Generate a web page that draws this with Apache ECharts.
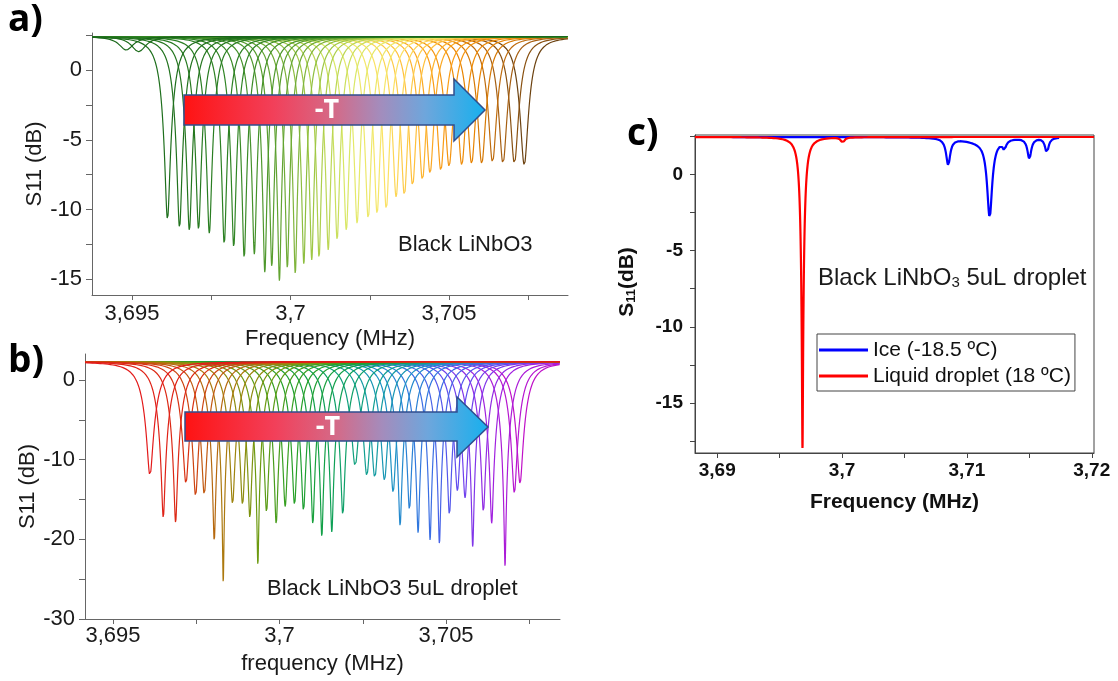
<!DOCTYPE html>
<html><head><meta charset="utf-8">
<script src="https://cdn.jsdelivr.net/npm/echarts@6/dist/echarts.min.js"></script>
<style>html,body{margin:0;padding:0;background:#fff}#c{width:1118px;height:681px}</style>
</head><body><div id="c"></div>
<script>
// ---------------- DATA ----------------
// Panel a: Black LiNbO3 — dip centre (MHz) and dip minimum (dB) of each sweep
const A_CENTERS = [3.69482,3.69521,3.69612,3.69650,3.69681,3.69710,3.69744,3.69791,3.69821,3.69854,
  3.69886,3.69919,3.69941,3.69965,3.69990,3.70015,3.70042,3.70067,3.70090,3.70119,
  3.70147,3.70176,3.70210,3.70245,3.70273,3.70302,3.70333,3.70359,3.70385,3.70416,
  3.70440,3.70474,3.70500,3.70540,3.70571,3.70603,3.70637,3.70670,3.70706,3.70737];
const A_MINIMA = [1.43,1.31,-10.7,-11.3,-11.5,-11.4,-11.7,-12.5,-12.7,-13.5,
  -13.2,-14.5,-14.1,-15.1,-14.2,-14.6,-13.9,-13.6,-13.5,-12.9,
  -12.2,-11.5,-11.0,-10.7,-10.3,-10.0,-9.1,-9.0,-8.3,-7.9,
  -7.4,-7.2,-6.9,-6.8,-6.7,-6.7,-6.6,-6.7,-6.7,-6.8];
const A_BASELINE = 2.4;        // dB, off-resonance level
const A_HALFWIDTH = 0.00029;   // MHz, resonance half-width
const A_XTICKS = [3.695, 3.7, 3.705];
const A_XMINOR = [3.6975, 3.7025, 3.7075];
const A_YTICKS = [0, -5, -10, -15];
const A_YMINOR = [2.5, -2.5, -7.5, -12.5];

// Panel b: Black LiNbO3 5uL droplet
const B_CENTERS = [3.69611,3.69651,3.69688,3.69719,3.69748,3.69774,3.69804,3.69831,3.69859,3.69889,
  3.69911,3.69935,3.69961,3.69990,3.70017,3.70045,3.70072,3.70100,3.70127,3.70157,
  3.70190,3.70227,3.70262,3.70286,3.70315,3.70341,3.70362,3.70390,3.70416,3.70452,
  3.70480,3.70510,3.70534,3.70557,3.70580,3.70612,3.70637,3.70677,3.70705,3.70722];
const B_MINIMA = [-12.0,-17.3,-17.9,-13.0,-14.6,-14.4,-20.3,-25.5,-15.6,-15.7,
  -17.3,-23.3,-16.6,-18.1,-15.9,-15.7,-16.5,-18.1,-19.7,-19.1,
  -17.0,-10.8,-12.0,-12.3,-12.6,-14.1,-18.3,-16.3,-19.2,-20.1,
  -20.6,-17.0,-13.9,-14.8,-21.0,-16.6,-18.0,-23.4,-14.2,-13.0];
const B_BASELINE = 2.3;
const B_HALFWIDTH = 0.00036;
const B_XTICKS = [3.695, 3.7, 3.705];
const B_XMINOR = [3.6975, 3.7025, 3.7075];
const B_YTICKS = [0, -10, -20, -30];
const B_YMINOR = [-5, -15, -25];

// Panel c: ice vs liquid droplet
const ICE_NAME = 'Ice (-18.5 ºC)';
const ICE_RANGE = [3.6884, 3.7174];
const ICE_BASELINE = 2.45;
const ICE_CENTERS = [3.70850, 3.71182, 3.71300, 3.71500, 3.71640, 3.71080];
const ICE_MINIMA  = [0.72, -2.62, 1.90, 1.10, 1.45, 2.20];
const ICE_WIDTHS  = [0.00022, 0.00033, 0.00016, 0.00020, 0.00018, 0.0016];
const LIQ_NAME = 'Liquid droplet (18 ºC)';
const LIQ_RANGE = [3.68822, 3.72018];
const LIQ_BASELINE = 2.45;
const LIQ_CENTERS = [3.69683, 3.70005];
const LIQ_MINIMA  = [-17.98, 2.10];
const LIQ_WIDTHS  = [0.00030, 0.00016];
const C_XTICKS = [3.69, 3.7, 3.71, 3.72];
const C_XMINOR = [3.695, 3.705, 3.715];
const C_YTICKS = [0, -5, -10, -15];
const C_YMINOR = [2.5, -2.5, -7.5, -12.5, -17.5];

// ---------------- helpers ----------------
const FONT = '"Liberation Sans", Arial, sans-serif';
function gridXs(xmin, xmax, centers, widths) {
  const xs = [];
  for (let x = xmin; x <= xmax + 1e-12; x += 0.00002) xs.push(x);
  centers.forEach((c, i) => {
    const w = widths[i];
    for (let k = -320; k <= 320; k++) { const x = c + k * w / 40; if (x >= xmin && x <= xmax) xs.push(x); }
    for (let k = -120; k <= 120; k++) { const x = c + k * w / 400; if (x >= xmin && x <= xmax) xs.push(x); }
  });
  xs.sort((a, b) => a - b);
  return xs;
}
// reflection resonances: each dip reaches its read minimum at its centre
function spectrum(xmin, xmax, base, centers, minima, widths) {
  const xs = gridXs(xmin, xmax, centers, widths);
  const depth = minima.map(m => 1 - Math.pow(10, -(base - m) / 10));
  return xs.map(x => {
    let lin = 1;
    centers.forEach((c, i) => { const u = (x - c) / widths[i]; lin *= 1 - depth[i] / (1 + u * u); });
    return [x, base + 10 * Math.log10(lin)];
  });
}
function hex(c){return [parseInt(c.slice(1,3),16),parseInt(c.slice(3,5),16),parseInt(c.slice(5,7),16)];}
function mix(stops, t) {
  for (let i = 0; i < stops.length - 1; i++) {
    const [t0, c0] = stops[i], [t1, c1] = stops[i + 1];
    if (t <= t1 || i === stops.length - 2) {
      const f = Math.max(0, Math.min(1, (t - t0) / (t1 - t0)));
      const a = hex(c0), b = hex(c1);
      return 'rgb(' + a.map((v, k) => Math.round(v + (b[k] - v) * f)).join(',') + ')';
    }
  }
}
const A_COLORS = [[0,'#1a681a'],[0.2,'#2f8424'],[0.35,'#6aa834'],[0.45,'#a6cc48'],[0.55,'#e0ea6a'],
  [0.63,'#fae66a'],[0.72,'#ffbf3a'],[0.8,'#f99a14'],[0.88,'#e68200'],[0.94,'#b06412'],[1,'#6c4210']];
const B_COLORS = [[0,'#e31a1a'],[0.08,'#d83212'],[0.13,'#c05a10'],[0.19,'#a8800e'],[0.28,'#6e9a10'],
  [0.38,'#28a026'],[0.48,'#0ea050'],[0.56,'#10a08e'],[0.64,'#1c92c4'],[0.73,'#3474e2'],
  [0.83,'#6548f0'],[0.92,'#a022e0'],[1,'#c010c8']];
const fmtX = v => String(+v.toFixed(4)).replace('.', ',');

const A_X = [3.69374, 3.70875], A_Y = [-16.12, 2.65];
const B_X = [3.69416, 3.70842], B_Y = [-30, 3.26];
const C_X = [3.68822, 3.72018], C_Y = [-18.27, 2.58];

const axisTxt = {color: '#1a1a1a', fontSize: 22, fontFamily: FONT};
function xAxisAB(grid, rng, ticks, minor, name, margin, gap) {
  return {type:'value', gridIndex:grid, min:rng[0], max:rng[1],
    axisLine:{onZero:false, lineStyle:{color:'#666', width:1}},
    axisTick:{customValues: ticks.concat(minor), length:5, lineStyle:{color:'#666'}},
    axisLabel:{customValues: ticks, formatter: fmtX, margin: margin, ...axisTxt},
    splitLine:{show:false}, name:name, nameLocation:'middle', nameGap:gap,
    nameTextStyle:{...axisTxt}};
}
function yAxisAB(grid, rng, ticks, minor, gap) {
  return {type:'value', gridIndex:grid, min:rng[0], max:rng[1],
    axisLine:{show:true, onZero:false, lineStyle:{color:'#666', width:1}},
    axisTick:{show:true, customValues: ticks.concat(minor), length:6, lineStyle:{color:'#666'}},
    axisLabel:{customValues: ticks, formatter: v => String(Math.round(v)), margin: 10, ...axisTxt},
    splitLine:{show:false}, name:'S11 (dB)', nameLocation:'middle', nameGap:gap, nameRotate:90,
    nameTextStyle:{...axisTxt}};
}

const series = [];
for (let i = A_CENTERS.length - 1; i >= 0; i--) {
  series.push({type:'line', xAxisIndex:0, yAxisIndex:0, symbol:'none', silent:true,
    data: spectrum(A_X[0], A_X[1], A_BASELINE, [A_CENTERS[i]], [A_MINIMA[i]], [A_HALFWIDTH]),
    lineStyle:{width:1.2, color: mix(A_COLORS, i / (A_CENTERS.length - 1))}});
}
for (let i = B_CENTERS.length - 1; i >= 0; i--) {
  series.push({type:'line', xAxisIndex:1, yAxisIndex:1, symbol:'none', silent:true,
    data: spectrum(B_X[0], B_X[1], B_BASELINE, [B_CENTERS[i]], [B_MINIMA[i]], [B_HALFWIDTH]),
    lineStyle:{width:1.2, color: mix(B_COLORS, i / (B_CENTERS.length - 1))}});
}
series.push({name: ICE_NAME, type:'line', xAxisIndex:2, yAxisIndex:2, symbol:'none', silent:true,
  data: spectrum(ICE_RANGE[0], ICE_RANGE[1], ICE_BASELINE, ICE_CENTERS, ICE_MINIMA, ICE_WIDTHS),
  color:'#0000ff', lineStyle:{width:2.2, color:'#0000ff'}});
series.push({name: LIQ_NAME, type:'line', xAxisIndex:2, yAxisIndex:2, symbol:'none', silent:true,
  data: spectrum(LIQ_RANGE[0], LIQ_RANGE[1], LIQ_BASELINE, LIQ_CENTERS, LIQ_MINIMA, LIQ_WIDTHS),
  color:'#ff0000', lineStyle:{width:2.2, color:'#ff0000'}});

const arrowFill = {type:'linear', x:0, y:0, x2:1, y2:0, colorStops:[
  {offset:0, color:'#ff1212'},{offset:0.3, color:'#f2405a'},{offset:0.5, color:'#d46a88'},
  {offset:0.65, color:'#a48cbc'},{offset:0.8, color:'#6ea6dc'},{offset:1, color:'#16b0ee'}]};
function arrow(x0, x1, xt, yt, yb, hy0, hy1, ym) {
  return {type:'polygon', z:100, shape:{points:[[x0,yt],[x1,yt],[x1,hy0],[xt,ym],[x1,hy1],[x1,yb],[x0,yb]]},
    style:{fill: arrowFill, stroke:'#2f4e8e', lineWidth:1.5}};
}
const boldTxt = (t, x, y, size, fill) => ({type:'text', z:101, x, y,
  style:{text:t, fill, font:'bold ' + size + 'px "Open Sans", "Liberation Sans", sans-serif', align:'center', verticalAlign:'middle'}});
const LETTER_FONT = 'bold 37px "Open Sans", "Liberation Sans", sans-serif';

const option = {
  animation:false, backgroundColor:'#fff',
  grid:[
    {left:92, top:33, width:476, height:262, outerBoundsMode:'none'},
    {left:85, top:354, width:475, height:265, outerBoundsMode:'none'},
    {left:695, top:135, width:399, height:318, outerBoundsMode:'none', show:true, borderColor:'#444', borderWidth:1}
  ],
  xAxis:[
    xAxisAB(0, A_X, A_XTICKS, A_XMINOR, 'Frequency (MHz)', 8, 33),
    xAxisAB(1, B_X, B_XTICKS, B_XMINOR, 'frequency (MHz)', 6, 34),
    {type:'value', gridIndex:2, min:C_X[0], max:C_X[1],
      axisLine:{onZero:false, lineStyle:{color:'#444', width:1}},
      axisTick:{customValues: C_XTICKS.concat(C_XMINOR), length:5, lineStyle:{color:'#444'}},
      axisLabel:{customValues: C_XTICKS, formatter: fmtX, margin:8, color:'#111', fontSize:19, fontWeight:'bold', fontFamily:FONT},
      splitLine:{show:false}, name:'Frequency (MHz)', nameLocation:'middle', nameGap:39,
      nameTextStyle:{color:'#111', fontSize:21, fontWeight:'bold', fontFamily:FONT}}
  ],
  yAxis:[
    yAxisAB(0, A_Y, A_YTICKS, A_YMINOR, 45),
    yAxisAB(1, B_Y, B_YTICKS, B_YMINOR, 44),
    {type:'value', gridIndex:2, min:C_Y[0], max:C_Y[1],
      axisLine:{show:true, onZero:false, lineStyle:{color:'#444', width:1}},
      axisTick:{show:true, customValues: C_YTICKS.concat(C_YMINOR), length:5, lineStyle:{color:'#444'}},
      axisLabel:{customValues: C_YTICKS, formatter: v => String(Math.round(v)), margin:12, color:'#111', fontSize:19, fontWeight:'bold', fontFamily:FONT},
      splitLine:{show:false}, name:'{b|S}{s|11}{b|(dB)}', nameLocation:'middle', nameGap:57, nameRotate:90,
      nameTextStyle:{padding:[0,0,0,24], rich:{
        b:{fontSize:21, fontWeight:'bold', color:'#111', fontFamily:FONT, verticalAlign:'bottom', lineHeight:24},
        s:{fontSize:13, fontWeight:'bold', color:'#111', fontFamily:FONT, verticalAlign:'bottom', lineHeight:14}}}}
  ],
  legend:{show:true, data:[{name:ICE_NAME, icon:'rect'}, {name:LIQ_NAME, icon:'rect'}], orient:'vertical', left:817, top:334,
    borderColor:'#444', borderWidth:1, padding:[5,4,4,2], itemGap:4, itemWidth:49, itemHeight:3,
    textStyle:{fontSize:21, lineHeight:22, color:'#111', fontFamily:FONT}, selectedMode:false},
  series,
  graphic:[
    {type:'text', x:8, y:2, style:{text:'a)', fill:'#000', font:LETTER_FONT}},
    {type:'text', x:8, y:343, style:{text:'b)', fill:'#000', font:LETTER_FONT}},
    {type:'text', x:627, y:116, style:{text:'c)', fill:'#000', font:LETTER_FONT}},
    arrow(184, 454, 485, 95, 125, 79, 141, 110),
    boldTxt('-T', 327, 110, 27, '#ffffff'),
    arrow(185, 457, 488, 412, 441, 397, 457, 427),
    boldTxt('-T', 328, 427, 27, '#ffffff'),
    {type:'text', x:398, y:245, z:50, style:{text:'Black LiNbO3', fill:'#1a1a1a', font:'22px ' + FONT, verticalAlign:'middle'}},
    {type:'text', x:267, y:589, z:50, style:{text:'Black LiNbO3 5uL droplet', fill:'#1a1a1a', font:'22px ' + FONT, verticalAlign:'middle'}},
    {type:'text', x:818, y:276, z:50, style:{text:'{t|Black LiNbO}{u|3}{t| 5uL droplet}', verticalAlign:'middle',
      rich:{t:{fontSize:24, fontFamily:FONT, fill:'#1a1a1a', verticalAlign:'bottom', lineHeight:28},
            u:{fontSize:15, fontFamily:FONT, fill:'#1a1a1a', verticalAlign:'bottom', lineHeight:14}}}}
  ]
};
const chart = echarts.init(document.getElementById('c'), null, {renderer:'canvas'});
chart.setOption(option);
</script>
</body></html>
